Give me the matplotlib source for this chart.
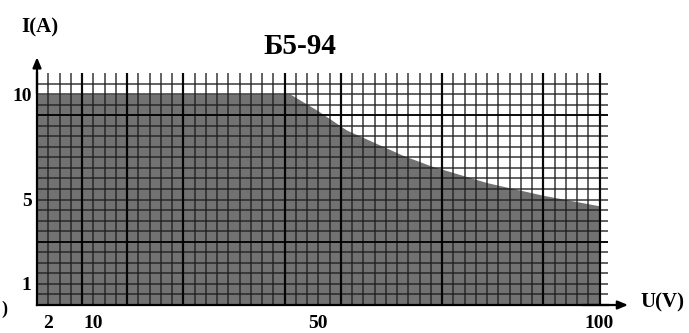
import numpy as np
import matplotlib.pyplot as plt
from matplotlib.patches import FancyArrowPatch

# output envelope of the supply
voltage = [0, 45, 50, 55, 60, 65, 70, 75, 80, 85, 90, 95, 100]
current = [10, 10, 9.2, 8.3, 7.7, 7.1, 6.6, 6.2, 5.8, 5.5, 5.2, 4.95, 4.7]

x_ticks = [2, 10, 50, 100]
x_tick_labels = ["2", "10", "50", "100"]
y_ticks = [10, 5, 1]
y_tick_labels = ["10", "5", "1"]

heavy_v = [8, 16, 26, 44, 54, 72, 90, 100]
heavy_i = [9, 3]

SERIF = ["Liberation Serif", "DejaVu Serif"]

fig = plt.figure(figsize=(6.89, 3.33), dpi=100)
ax = fig.add_axes([37 / 689, 28 / 333, 571 / 689, 232 / 333])
ax.set_xlim(0, 101.5)
ax.set_ylim(0, 11)

ax.fill_between(voltage, current, 0, color="#727272", lw=0, zorder=1)

v_lines = np.arange(2, 101, 2)
i_lines = np.arange(0.5, 10.6, 0.5)
ax.vlines(v_lines, 0, 11, color="#1e1e1e", lw=1.3, alpha=0.75, zorder=2)
ax.hlines(i_lines, 0, 101.5, color="#1e1e1e", lw=1.3, alpha=0.75, zorder=2)
ax.vlines(heavy_v, 0, 11, color="#000000", lw=1.6, alpha=0.9, zorder=3)
ax.hlines(heavy_i, 0, 101.5, color="#000000", lw=1.4, alpha=0.85, zorder=3)

for side in ["top", "right"]:
    ax.spines[side].set_visible(False)
ax.spines["left"].set_linewidth(1.6)
ax.spines["bottom"].set_linewidth(1.6)

ax.set_xticks(x_ticks, x_tick_labels)
ax.set_yticks(y_ticks, y_tick_labels)
ax.tick_params(axis="x", length=0, pad=7)
ax.tick_params(axis="y", length=0, pad=4)
for lab in ax.get_xticklabels() + ax.get_yticklabels():
    lab.set_family(SERIF)
    lab.set_fontweight("bold")
    lab.set_fontsize(14)

# axis arrows
ax.add_patch(FancyArrowPatch((0, 0.9), (0, 1.08), transform=ax.transAxes,
                             arrowstyle="-|>,head_length=6,head_width=2.5",
                             color="black", lw=1.6, clip_on=False))
ax.add_patch(FancyArrowPatch((0.95, 0.0), (1.04, 0.0), transform=ax.transAxes,
                             arrowstyle="-|>,head_length=6,head_width=2.5",
                             color="black", lw=1.6, clip_on=False))

fig.text(40 / 689, 1 - 27 / 333, "I(A)", family=SERIF, fontweight="bold",
         fontsize=15, ha="center", va="center")
fig.text(662 / 689, 1 - 302 / 333, "U(V)", family=SERIF, fontweight="bold",
         fontsize=15, ha="center", va="center")
fig.text(300 / 689, 1 - 46 / 333, "Б5-94", family=SERIF, fontweight="bold",
         fontsize=21, ha="center", va="center")
fig.text(1 / 689, 1 - 309 / 333, ")", family=SERIF, fontweight="bold",
         fontsize=13, ha="left", va="center")

fig.savefig("out.png", dpi=100)
